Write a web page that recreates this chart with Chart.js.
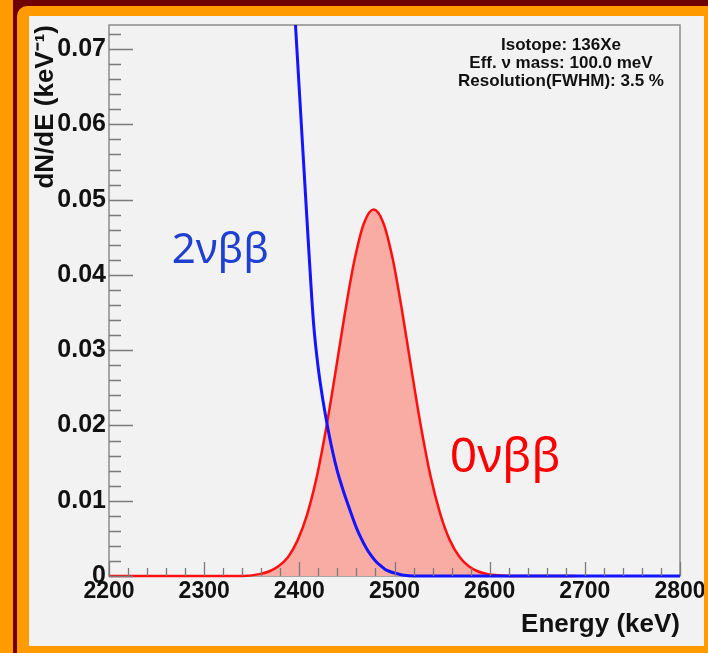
<!DOCTYPE html>
<html>
<head>
<meta charset="utf-8">
<script src="https://cdn.jsdelivr.net/npm/chart.js@4.4.0/dist/chart.umd.min.js"></script>
<style>
  html, body { margin: 0; padding: 0; }
  body { width: 708px; height: 653px; background: #6e0000; position: relative; overflow: hidden; }
  .strip { position: absolute; left: 0; top: 0; width: 13px; height: 653px; background: #ff9a00; }
  .frame { position: absolute; left: 17px; top: 6px; width: 691px; height: 647px; background: #ff9a00; border-top-left-radius: 10px; }
  .panel { position: absolute; left: 29px; top: 16px; width: 675px; height: 630px; background: #f2f2f2; }
</style>
</head>
<body>
<div class="strip"></div>
<div class="frame"></div>
<div class="panel"><canvas id="chart" width="675" height="630"></canvas></div>
<script>
// 2vbb spectrum tail (blue)
const energy2v = [2394, 2400, 2405, 2410, 2415, 2420, 2425, 2430, 2435, 2440, 2445, 2450, 2455, 2460,
                  2465, 2470, 2475, 2480, 2485, 2490, 2495, 2500, 2510, 2520, 2800];
const rate2v = [0.0774, 0.0645, 0.0538, 0.0432, 0.0335, 0.0275, 0.0232, 0.0196, 0.0165, 0.0139, 0.0118, 0.0099, 0.0081, 0.0064,
                0.0050, 0.0038, 0.0028, 0.0020, 0.0014, 0.0009, 0.0006, 0.0004, 0.0001, 0, 0];

// 0vbb peak (red, filled)
const energy0v = [2200, 2340, 2358, 2368, 2378, 2388, 2398, 2408, 2418, 2428, 2438, 2448, 2458, 2468, 2478,
                  2488, 2498, 2508, 2518, 2528, 2538, 2548, 2558, 2568, 2578, 2588, 2598, 2608, 2620, 2690];
const rate0v = [0, 0, 0.00025, 0.0006, 0.0013, 0.0025, 0.0047, 0.0081, 0.0130, 0.0195, 0.0271, 0.0350, 0.0420, 0.0469, 0.0487,
                0.0470, 0.0422, 0.0352, 0.0273, 0.0197, 0.0132, 0.0083, 0.0048, 0.0026, 0.0013, 0.0006, 0.00025, 0.0001, 0, 0];

const xTicks = [2200, 2300, 2400, 2500, 2600, 2700, 2800];
const yTicks = [0, 0.01, 0.02, 0.03, 0.04, 0.05, 0.06, 0.07];
const statLines = ['Isotope: 136Xe', 'Eff. ν mass: 100.0 meV', 'Resolution(FWHM): 3.5 %'];

const xMin = 2200, xMax = 2800, yMin = 0, yMax = 0.0732;
const labelFont = '"Liberation Sans", Arial, sans-serif';

function toPoints(xs, ys) {
    return xs.map((x, i) => ({ x: x, y: ys[i] }));
}

// ROOT-like frame with inward ticks
const framePlugin = {
    id: 'frame',
    beforeDatasetsDraw(chart) {
        const { ctx, chartArea: a } = chart;
        ctx.save();
        ctx.strokeStyle = '#8c8c8c';
        ctx.lineWidth = 1.5;
        ctx.strokeRect(a.left, a.top, a.right - a.left, a.bottom - a.top);
        ctx.restore();
    },
    afterDatasetsDraw(chart) {
        const { ctx, chartArea: a, scales } = chart;
        const xs = scales.x, ys = scales.y;
        ctx.save();
        ctx.strokeStyle = '#7a7a7a';
        ctx.lineWidth = 1.3;
        ctx.beginPath();
        for (let i = 0; i <= 36; i++) {
            const v = i * 0.002;
            if (v > yMax) break;
            const py = Math.round(ys.getPixelForValue(v)) + 0.5;
            const len = (i % 5 === 0) ? 24 : 12;
            ctx.moveTo(a.left, py);
            ctx.lineTo(a.left + len, py);
        }
        for (let i = 0; i <= 30; i++) {
            const v = xMin + i * 20;
            const px = Math.round(xs.getPixelForValue(v)) + 0.5;
            const len = (i % 5 === 0) ? 14 : 8;
            ctx.moveTo(px, a.bottom);
            ctx.lineTo(px, a.bottom - len);
        }
        ctx.stroke();
        ctx.restore();
    }
};

// text labels: curve names + stats box
const textPlugin = {
    id: 'texts',
    afterDraw(chart) {
        const { ctx, scales } = chart;
        ctx.save();
        ctx.textBaseline = 'alphabetic';
        ctx.textAlign = 'left';
        ctx.font = '42px "Noto Sans", sans-serif';
        ctx.fillStyle = '#1f3fd0';
        ctx.fillText('2νββ', scales.x.getPixelForValue(2266), scales.y.getPixelForValue(0.0416));
        ctx.font = '48px "Noto Sans", sans-serif';
        ctx.fillStyle = '#ff0000';
        ctx.fillText('0νββ', scales.x.getPixelForValue(2558), scales.y.getPixelForValue(0.0138));

        ctx.fillStyle = '#111';
        ctx.textBaseline = 'middle';
        ctx.textAlign = 'center';
        ctx.font = 'bold 17px ' + labelFont;
        const cx = 532;
        statLines.forEach((line, i) => {
            ctx.fillText(line, cx, 29 + i * 18);
        });
        ctx.restore();
    }
};

new Chart(document.getElementById('chart'), {
    type: 'line',
    data: {
        datasets: [{
            label: '2vbb',
            data: toPoints(energy2v, rate2v),
            borderColor: '#1414ff',
            borderWidth: 3,
            pointRadius: 0,
            fill: false,
            cubicInterpolationMode: 'monotone',
            clip: { left: 0, top: 0, right: 0, bottom: 3 }
        }, {
            label: '0vbb',
            data: toPoints(energy0v, rate0v),
            borderColor: '#ff1010',
            backgroundColor: '#f8aca4',
            borderWidth: 2.5,
            pointRadius: 0,
            fill: 'origin',
            cubicInterpolationMode: 'monotone',
            clip: { left: 0, top: 0, right: 0, bottom: 3 }
        }]
    },
    options: {
        responsive: false,
        animation: false,
        events: [],
        layout: { padding: { top: 9, right: 24, left: 0, bottom: 0 } },
        plugins: { legend: { display: false }, tooltip: { enabled: false } },
        scales: {
            x: {
                type: 'linear',
                min: xMin,
                max: xMax,
                afterFit: s => { s.height = 70; s.paddingLeft = 0; s.paddingRight = 0; },
                afterBuildTicks: s => { s.ticks = xTicks.map(v => ({ value: v })); },
                grid: { display: false, drawTicks: false },
                border: { display: false },
                ticks: {
                    padding: 2,
                    color: '#111',
                    font: { family: labelFont, weight: 'bold', size: 23 },
                    maxRotation: 0,
                    callback: v => String(v)
                },
                title: {
                    display: true,
                    text: 'Energy (keV)',
                    align: 'end',
                    color: '#111',
                    font: { family: labelFont, weight: 'bold', size: 26 },
                    padding: { top: 0, bottom: 6 }
                }
            },
            y: {
                type: 'linear',
                min: yMin,
                max: yMax,
                afterFit: s => { s.width = 80; s.paddingTop = 0; s.paddingBottom = 0; },
                afterBuildTicks: s => { s.ticks = yTicks.map(v => ({ value: v })); },
                grid: { display: false, drawTicks: false },
                border: { display: false },
                ticks: {
                    padding: 3,
                    color: '#111',
                    font: { family: labelFont, weight: 'bold', size: 25 },
                    callback: v => v === 0 ? '0' : v.toFixed(2)
                },
                title: {
                    display: true,
                    text: 'dN/dE (keV⁻¹)',
                    align: 'end',
                    color: '#111',
                    font: { family: labelFont, weight: 'bold', size: 26 },
                    padding: { top: 1, bottom: 0 }
                }
            }
        }
    },
    plugins: [framePlugin, textPlugin]
});
</script>
</body>
</html>
